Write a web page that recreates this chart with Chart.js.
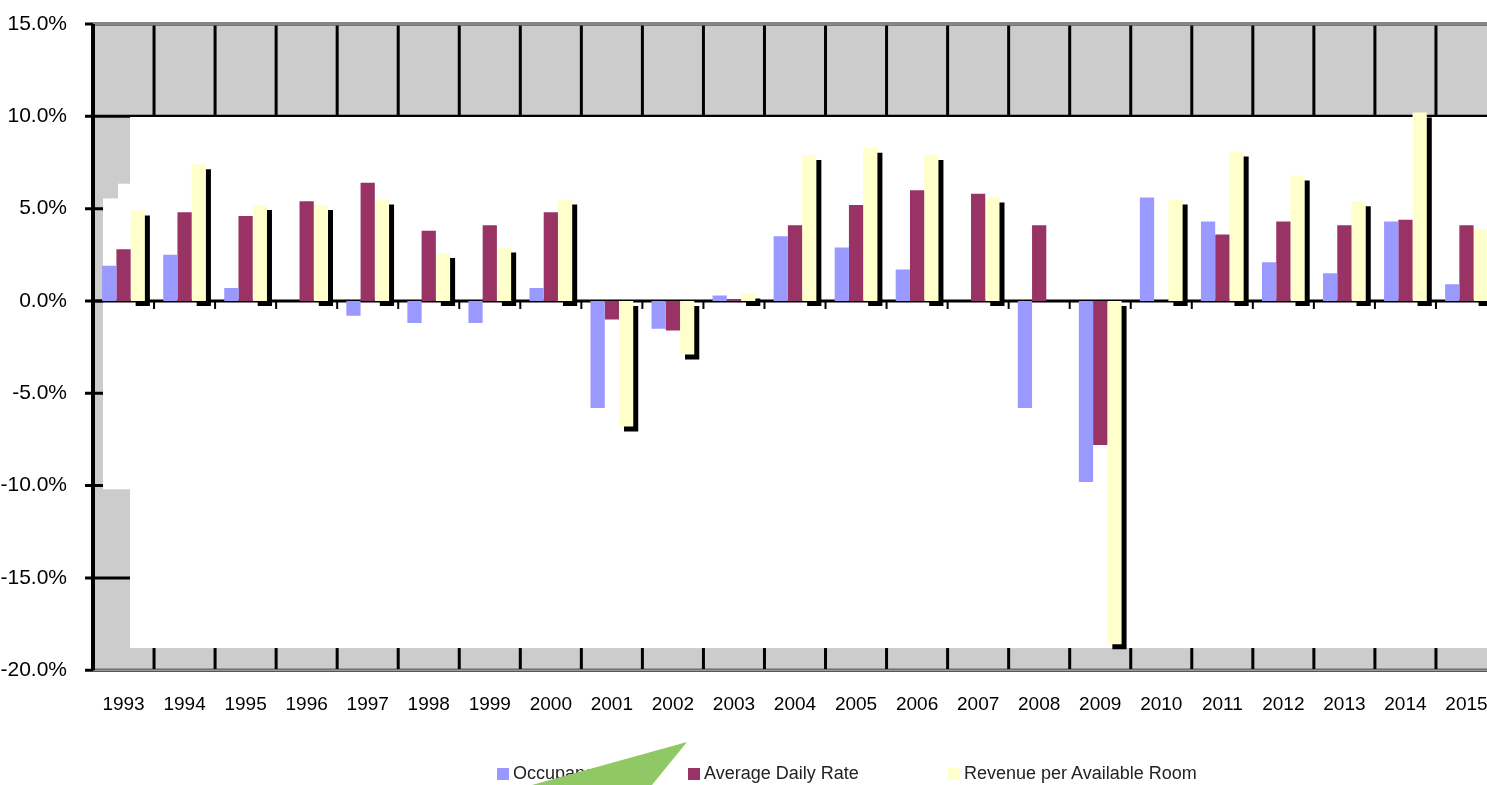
<!DOCTYPE html>
<html>
<head>
<meta charset="utf-8">
<script src="https://cdn.jsdelivr.net/npm/chart.js@4.4.1/dist/chart.umd.min.js"></script>
<style>
    html, body { margin: 0; padding: 0; background: #fff; overflow: hidden; }
    #wrap { position: relative; width: 1487px; height: 785px; overflow: hidden; }
    #box { position: absolute; left: 0; top: 0; width: 1510px; height: 785px; }
    #legend { position: absolute; top: 763px; left: 0; width: 1487px; height: 22px;
              font-family: "Liberation Sans", Arial, sans-serif;
              font-size: 18px; color: #222; }
    .item { position: absolute; top: 0; white-space: nowrap; }
    .sw { display: inline-block; width: 12px; height: 12px; margin-right: 4px; vertical-align: -1px; }
    #tri { position: absolute; left: 0; top: 0; pointer-events: none; }
</style>
</head>
<body>
<div id="wrap">
    <div id="box"><canvas id="hotelChart"></canvas></div>
    <div id="legend"></div>
    <svg id="tri" width="1487" height="785"><polygon points="687,742 532,785 652,785" fill="#90c865"/></svg>
</div>
<script>
// Annual % change, US hotel industry
const years = ['1993', '1994', '1995', '1996', '1997', '1998', '1999', '2000', '2001', '2002', '2003', '2004',
               '2005', '2006', '2007', '2008', '2009', '2010', '2011', '2012', '2013', '2014', '2015'];
const occupancy = [1.9, 2.5, 0.7, 0.0, -0.8, -1.2, -1.2, 0.7, -5.8, -1.5, 0.3, 3.5,
                   2.9, 1.7, 0.0, -5.8, -9.8, 5.6, 4.3, 2.1, 1.5, 4.3, 0.9];
const avgDailyRate = [2.8, 4.8, 4.6, 5.4, 6.4, 3.8, 4.1, 4.8, -1.0, -1.6, 0.1, 4.1,
                      5.2, 6.0, 5.8, 4.1, -7.8, 0.0, 3.6, 4.3, 4.1, 4.4, 4.1];
const revPar = [4.9, 7.4, 5.2, 5.2, 5.5, 2.6, 2.9, 5.5, -6.8, -2.9, 0.4, 7.9,
                8.3, 7.9, 5.6, 0.0, -18.6, 5.5, 8.1, 6.8, 5.4, 10.2, 3.9];
const yTicks = [15, 10, 5, 0, -5, -10, -15, -20];

const fontFamily = '"Liberation Sans", Arial, sans-serif';

// grey frame, black grid and the odd white inner panel of the original
const backdropPlugin = {
    id: 'backdrop',
    beforeDatasetsDraw: function(chart) {
        const ctx = chart.ctx;
        const a = chart.chartArea;
        const y = chart.scales.y;
        const x = chart.scales.x;
        const step = x.width / years.length;

        ctx.save();
        ctx.fillStyle = '#cccccc';
        ctx.fillRect(a.left, a.top, a.width, a.height);

        ctx.strokeStyle = '#000';
        ctx.lineWidth = 3;
        yTicks.forEach(function(v) {
            ctx.beginPath();
            ctx.moveTo(a.left - 8, y.getPixelForValue(v));
            ctx.lineTo(a.right, y.getPixelForValue(v));
            ctx.stroke();
        });
        for (let i = 1; i < years.length; i++) {
            const px = a.left + i * step;
            ctx.beginPath();
            ctx.moveTo(px, a.top);
            ctx.lineTo(px, a.bottom);
            ctx.stroke();
        }

        // white panel
        const y10 = y.getPixelForValue(10);
        ctx.fillStyle = '#ffffff';
        ctx.fillRect(a.left + 37, y10, a.right - a.left - 37, y.getPixelForValue(-18.8) - y10);
        ctx.fillRect(a.left + 25, y.getPixelForValue(6.35), 12,
                     y.getPixelForValue(-10.2) - y.getPixelForValue(6.35));
        ctx.fillRect(a.left + 10, y.getPixelForValue(5.55), 15,
                     y.getPixelForValue(-10.2) - y.getPixelForValue(5.55));

        // thin line under top band
        ctx.lineWidth = 1.5;
        ctx.beginPath();
        ctx.moveTo(a.left + 37, y10);
        ctx.lineTo(a.right, y10);
        ctx.stroke();

        // zero line and its ticks
        const y0 = y.getPixelForValue(0);
        ctx.lineWidth = 3;
        ctx.beginPath();
        ctx.moveTo(a.left, y0);
        ctx.lineTo(a.right, y0);
        ctx.stroke();
        ctx.lineWidth = 2;
        for (let i = 1; i < years.length; i++) {
            const px = a.left + i * step;
            ctx.beginPath();
            ctx.moveTo(px, y0);
            ctx.lineTo(px, y0 + 8);
            ctx.stroke();
        }

        // top and bottom frame lines
        ctx.strokeStyle = '#888888';
        ctx.lineWidth = 3;
        ctx.beginPath();
        ctx.moveTo(a.left, a.top);
        ctx.lineTo(a.right, a.top);
        ctx.stroke();
        ctx.strokeStyle = '#999999';
        ctx.lineWidth = 2;
        ctx.beginPath();
        ctx.moveTo(a.left, a.bottom);
        ctx.lineTo(a.right, a.bottom);
        ctx.stroke();

        // y axis line
        ctx.strokeStyle = '#000';
        ctx.lineWidth = 4;
        ctx.beginPath();
        ctx.moveTo(a.left, a.top);
        ctx.lineTo(a.left, a.bottom);
        ctx.stroke();
        ctx.restore();
    },
    // drop shadow on the RevPAR bars
    beforeDatasetDraw: function(chart, args) {
        if (args.index !== 2) return;
        const ctx = chart.ctx;
        ctx.save();
        ctx.shadowColor = '#000000';
        ctx.shadowOffsetX = 5;
        ctx.shadowOffsetY = 5;
        ctx.shadowBlur = 0;
    },
    afterDatasetDraw: function(chart, args) {
        if (args.index !== 2) return;
        chart.ctx.restore();
    }
};

const ctx = document.getElementById('hotelChart').getContext('2d');
const hotelChart = new Chart(ctx, {
    type: 'bar',
    data: {
        labels: years,
        datasets: [
            { label: 'Occupancy', data: occupancy, backgroundColor: '#9999ff' },
            { label: 'Average Daily Rate', data: avgDailyRate, backgroundColor: '#993366' },
            { label: 'Revenue per Available Room', data: revPar, backgroundColor: '#ffffcc' }
        ]
    },
    options: {
        responsive: true,
        maintainAspectRatio: false,
        animation: false,
        layout: {
            padding: { top: 24, right: 13, bottom: 54, left: 0 }
        },
        datasets: {
            bar: { categoryPercentage: 0.7, barPercentage: 1.0 }
        },
        plugins: {
            legend: { display: false },
            tooltip: { enabled: false }
        },
        scales: {
            x: {
                grid: { display: false },
                border: { display: false },
                ticks: {
                    color: '#000',
                    padding: 15,
                    maxRotation: 0,
                    font: { family: fontFamily, size: 19 }
                }
            },
            y: {
                min: -20,
                max: 15,
                grid: { display: false },
                border: { display: false },
                afterFit: function(scale) {
                    scale.width = 93;
                    scale.paddingTop = 0;
                    scale.paddingBottom = 0;
                },
                ticks: {
                    stepSize: 5,
                    color: '#000',
                    padding: 18,
                    font: { family: fontFamily, size: 21 },
                    callback: function(value) { return value.toFixed(1) + '%'; }
                }
            }
        }
    },
    plugins: [backdropPlugin]
});

// html legend, placed like the original
const legendLeft = [497, 688, 948];
const legendEl = document.getElementById('legend');
hotelChart.data.datasets.forEach(function(ds, i) {
    const item = document.createElement('div');
    item.className = 'item';
    item.style.left = legendLeft[i] + 'px';
    item.innerHTML = '<span class="sw" style="background:' + ds.backgroundColor + '"></span>' + ds.label;
    legendEl.appendChild(item);
});
</script>
</body>
</html>
